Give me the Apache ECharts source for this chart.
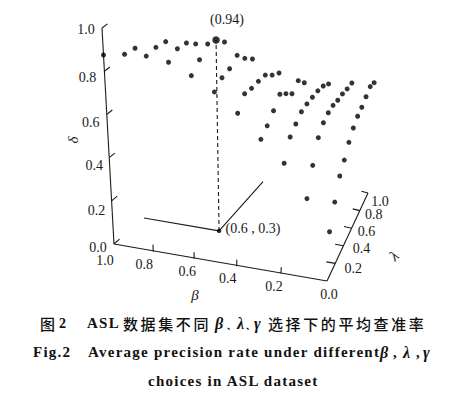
<!DOCTYPE html>
<html><head><meta charset="utf-8">
<style>
html,body{margin:0;padding:0;background:#fff}
#c{width:457px;height:395px}
#c text[style*="500 15px"]{letter-spacing:2.6px}
#c text[style*="bold 15px"]{letter-spacing:1.25px}
</style>
<script src="https://cdn.jsdelivr.net/npm/echarts@6/dist/echarts.min.js"></script>
</head><body><div id="c"></div>
<script>
// grid: beta + lambda <= 1, lambda steps by 0.1 from 0 for every beta
const betaValues = [1.0,0.9,0.8,0.7,0.6,0.5,0.4,0.3,0.2,0.1,0.0];
const deltaBeta10 = [.875];
const deltaBeta09 = [.905,.894];
const deltaBeta08 = [.923,.926,.914];
const deltaBeta07 = [.921,.947,.936,.892];
const deltaBeta06 = [.884,.922,.960,.940,.891];
const deltaBeta05 = [.832,.862,.867,.894,.839,.795];
const deltaBeta04 = [.754,.811,.798,.793,.784,.743,.712];
const deltaBeta03 = [.651,.678,.713,.756,.718,.676,.702,.649];
const deltaBeta02 = [.556,.648,.673,.695,.694,.687,.679,.662,.630];
const deltaBeta01 = [.401,.529,.630,.666,.677,.674,.659,.650,.634,.623];
const deltaBeta00 = [.254,.364,.457,.498,.549,.583,.603,.609,.623,.635,.613];
const deltaRows = [deltaBeta10,deltaBeta09,deltaBeta08,deltaBeta07,deltaBeta06,deltaBeta05,deltaBeta04,deltaBeta03,deltaBeta02,deltaBeta01,deltaBeta00];
const bestBeta = 0.6, bestLambda = 0.3, bestDelta = 0.94;
const guideEndA = [1.0,0.27], guideEndB = [0.6,0.83];
const deltaTicks = [0.0,0.2,0.4,0.6,0.8,1.0];
const betaTicks = [1.0,0.8,0.6,0.4,0.2,0.0];
const lambdaTicks = [0.2,0.4,0.6,0.8,1.0];

// perspective-like mapping of (beta, lambda, delta) onto the flat hidden axes
function project(b,l,d){
  const ax=327-234*b+21*b*b, ay=281-37*b;
  const dx=41+70*b, dy=-88-8.3*b;
  const t=10-22*b, s=216-22*(1-b)-14*l;
  return [ax+l*dx+d*t, ay+l*dy-d*s];
}
const pts=[];
betaValues.forEach((b,i)=>deltaRows[i].forEach((d,j)=>{
  if(!(b===bestBeta && j===3)) pts.push(project(b,j/10,d));
}));
const INK='#1a1a1a';
const SERIF='"Liberation Serif","Times New Roman",serif';
const CJK='"Noto Sans CJK SC",sans-serif';
const segs=[], texts=[];
function seg(a,b,dash){segs.push({a,b,dash});}
function txt(text,p,dx,dy,font,extra){texts.push(Object.assign({text,x:p[0]+dx,y:p[1]+dy,font,fill:INK,align:'center',rot:0},extra||{}));}

seg(project(1,0,0),project(1,0,1));
seg(project(1,0,0),project(0,0,0));
seg(project(0,0,0),project(0,1,0));
deltaTicks.forEach(d=>seg(project(1,0,d),project(1,0.05,d)));
betaTicks.slice(1,5).forEach(b=>seg(project(b,0,0),project(b,0,0.032)));
lambdaTicks.forEach(l=>seg(project(0,l,0),project(0.04,l,0)));
const foot=project(bestBeta,bestLambda,0), peak=project(bestBeta,bestLambda,bestDelta);
seg(foot,peak,[4,3]);
seg(foot,project(guideEndA[0],guideEndA[1],0));
seg(foot,project(guideEndB[0],guideEndB[1],0));

const F='14px '+SERIF;
const deltaDy=[3,10,8,8,6,1], deltaDx=[-16,-15,-15,-16,-17,-16];
deltaTicks.forEach((d,i)=>txt(d.toFixed(1),project(1,0,d),deltaDx[i],deltaDy[i],F));
const betaDx=[-9,-9,-7,-9,-7,2], betaDy=[16,13,13,12,13,13];
betaTicks.forEach((b,i)=>txt(b.toFixed(1),project(b,0,0),betaDx[i],betaDy[i],F));
const lamDx=[18,18,15,14,12], lamDy=[5,3,3,4,8];
lambdaTicks.forEach((l,i)=>txt(l.toFixed(1),project(0,l,0),lamDx[i],lamDy[i],F));
txt('δ',[73,140],0,0,'italic 15px '+SERIF,{rot:Math.PI/2});
txt('λ',[394,256],0,0,'italic 15px '+SERIF,{rot:Math.PI/4});
txt('β',[195,295],0,0,'italic 15px '+SERIF);
txt('(0.94)',[227,19],0,0,F);
txt('(0.6 , 0.3)',[253,228],0,0,F);

const C1='500 15px '+CJK, B='bold 15px '+SERIF, G='bold italic 16px '+SERIF, P='900 8px '+CJK;
function cap(text,x,y,font){texts.push({text,x,y,font,fill:'#111',align:'left',rot:0});}
cap('图',40,323,C1); cap('2',59,323,'bold 14px '+SERIF);
cap('ASL',87,323,B); cap('数据集不同',123,323,C1);
cap('β',215,323,G); cap('、',227,325,P); cap('λ',237,323,G); cap('、',246,325,P); cap('γ',254,323,G);
cap('选择下的平均查准率',268,323,C1);
cap('Fig.2',33,352,B); cap('Average precision rate under different',88,352,B);
cap('β',380,352,G); cap(',',393,352,B); cap('λ',403,352,G); cap(',',416,352,B); cap('γ',423,352,G);
cap('choices in ASL dataset',148,381,B);

const chart=echarts.init(document.getElementById('c'),null,{renderer:'svg',width:457,height:395});
chart.setOption({
  animation:false,backgroundColor:'#fff',
  grid:{left:0,right:0,top:0,bottom:0},
  xAxis:{type:'value',min:0,max:457,show:false},
  yAxis:{type:'value',min:0,max:395,inverse:true,show:false},
  series:[
    {type:'custom',data:segs.map((s,i)=>[i]),silent:true,z:1,
     renderItem(p,api){const s=segs[api.value(0)],a=api.coord(s.a),b=api.coord(s.b);
       return {type:'line',shape:{x1:a[0],y1:a[1],x2:b[0],y2:b[1]},
         style:{stroke:INK,lineWidth:1.1,lineDash:s.dash||null}};}},
    {type:'scatter',data:pts,symbolSize:5,itemStyle:{color:'#000'},silent:true,z:2},
    {type:'scatter',data:[peak],symbolSize:7.5,itemStyle:{color:'#000'},silent:true,z:2},
    {type:'scatter',data:[foot],symbolSize:4.5,itemStyle:{color:'#000'},silent:true,z:2},
    {type:'custom',data:texts.map((t,i)=>[i]),silent:true,z:3,
     renderItem(p,api){const t=texts[api.value(0)],c=api.coord([t.x,t.y]);
       return {type:'text',x:c[0],y:c[1],rotation:t.rot,
         style:{text:t.text,font:t.font,fill:t.fill,align:t.align,verticalAlign:'middle'}};}}
  ]
});
</script></body></html>
